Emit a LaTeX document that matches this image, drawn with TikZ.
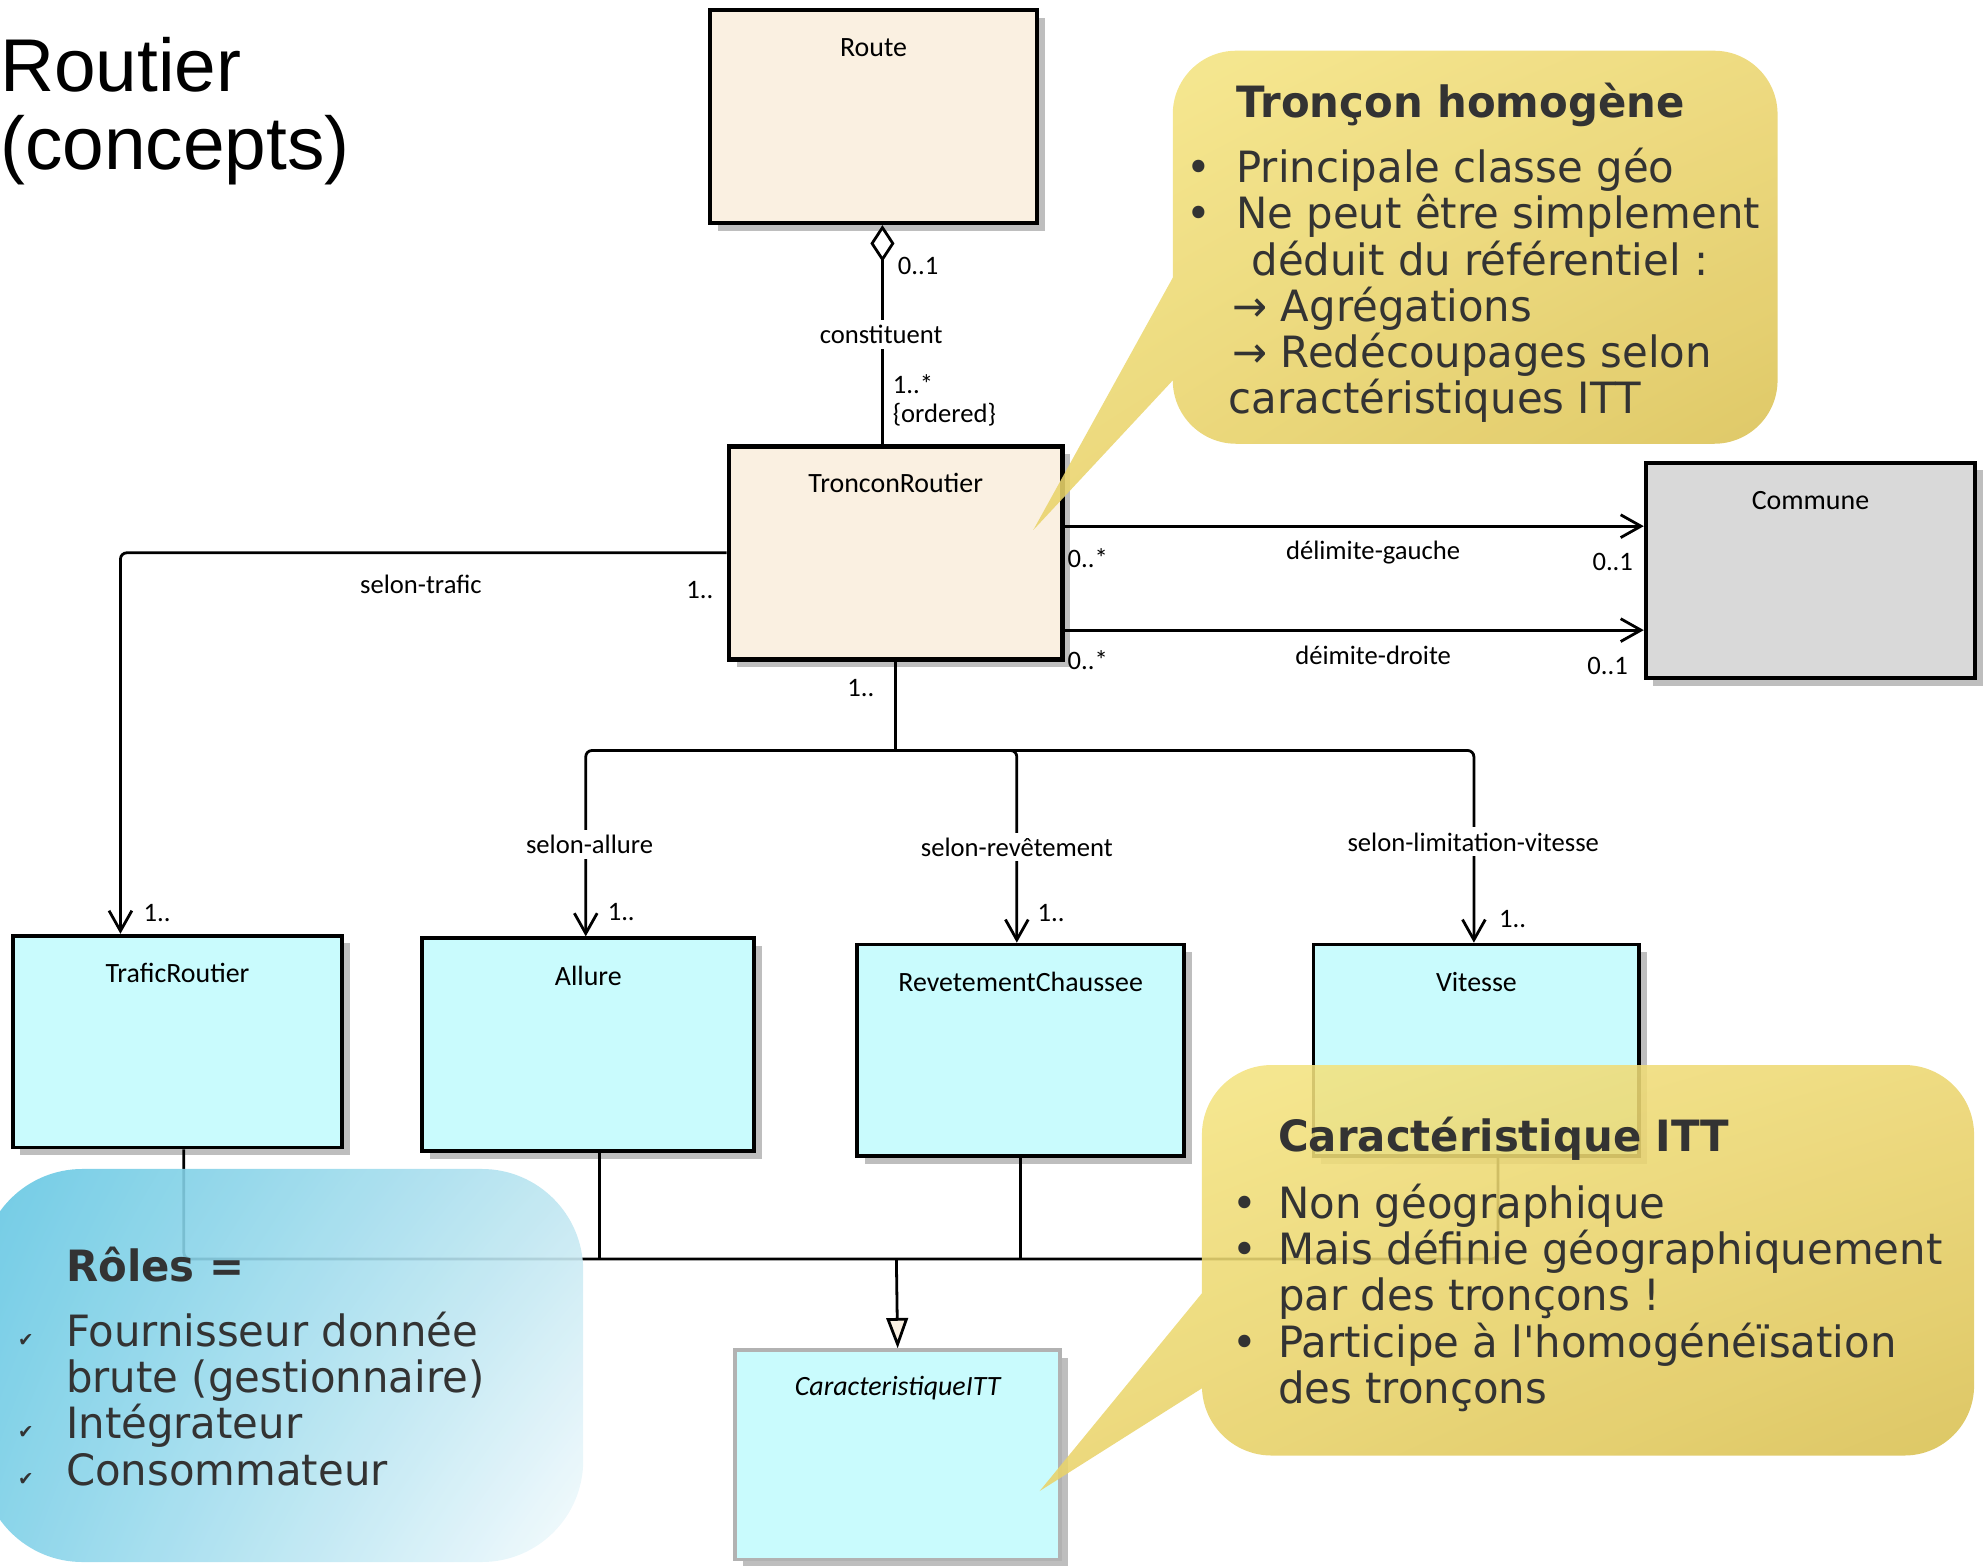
\documentclass[tikz,border=0pt]{standalone}
\usepackage{fontspec}
\setmainfont{Liberation Sans}
\newfontfamily\sketchfont{Carlito}
\newfontfamily\notefont[FakeStretch=0.97]{DejaVu Sans}
\usetikzlibrary{positioning,arrows.meta,shadows,shadings}
\definecolor{beigefill}{HTML}{FAF0E1}
\definecolor{cyanfill}{HTML}{C9FBFD}
\definecolor{communefill}{HTML}{D9D9D9}
\definecolor{shadowgray}{HTML}{BEBEBE}
\definecolor{notegray}{HTML}{333333}
\definecolor{yellowA}{HTML}{F6E785}
\definecolor{yellowB}{HTML}{ECD670}
\definecolor{yellowC}{HTML}{E9D36A}
\definecolor{yellowD}{HTML}{D7BD4D}
\definecolor{blueA}{HTML}{62C6E2}
\definecolor{blueB}{HTML}{BFE6F1}
\definecolor{blueC}{HTML}{7CCFE7}
\definecolor{blueD}{HTML}{F5FBFD}
\tikzset{
  classbox/.style   = {shape=rectangle, draw, line width=3pt,
                       drop shadow={shadow xshift=6pt, shadow yshift=-6pt,
                                    fill=shadowgray, opacity=1}},
  beigebox/.style   = {classbox, fill=beigefill},
  cyanbox/.style    = {classbox, fill=cyanfill},
  graybox/.style    = {classbox, fill=communefill},
  classlbl/.style   = {font=\sketchfont\fontsize{22}{24}\selectfont, inner sep=0pt},
  mult/.style       = {font=\sketchfont\fontsize{21}{23}\selectfont, inner sep=1pt},
  rolename/.style   = {mult, fill=white, inner sep=4pt},
  connector/.style  = {draw, line width=2.2pt, rounded corners=5pt},
  assocarrow/.style = {connector, -{Straight Barb[length=16pt, width=18pt]}},
  aggline/.style    = {connector, {Diamond[length=29pt, width=19pt, fill=white]}-},
  genline/.style    = {connector, -{Triangle[length=24pt, width=17pt, fill=beigefill]}},
  yellownote/.style = {upper left=yellowA, upper right=yellowB,
                       lower left=yellowC, lower right=yellowD, opacity=.88},
  bluenote/.style   = {upper left=blueA, upper right=blueB,
                       lower left=blueC, lower right=blueD, opacity=.9},
  notetext/.style   = {font=\notefont\fontsize{34}{36.5}\selectfont, text=notegray,
                       align=left, inner sep=0pt, anchor=north west},
}
\begin{document}
\begin{tikzpicture}[x=1pt, y=-1pt]
  \useasboundingbox (0,0) rectangle (1568,1235);

  \node[anchor=north west, inner sep=0pt, align=left,
        font=\fontsize{59}{62}\selectfont] (title) at (0,29) {Routier\\(concepts)};

  \node[beigebox, minimum width=258pt, minimum height=168pt] (route) at (689,92) {};
  \node[beigebox, minimum width=263pt, minimum height=168pt, line width=3.8pt] (troncon) at (706.5,436) {};
  \node[graybox, minimum width=260pt, minimum height=170pt] (commune) at (1428,450) {};
  \node[cyanbox, minimum width=260pt, minimum height=167pt] (trafic) at (140,821.5) {};
  \node[cyanbox, minimum width=262pt, minimum height=168pt] (allure) at (464,824) {};
  \node[cyanbox, minimum width=258pt, minimum height=167pt] (revet) at (805,828.5) {};
  \node[cyanbox, minimum width=257pt, minimum height=167pt] (vitesse) at (1164.5,828.5) {};
  \node[cyanbox, minimum width=256pt, minimum height=165pt, draw=black!30] (caract) at (708,1147.5) {};

  \node[classlbl] (routelbl) at ([yshift=-31pt]route.north) {Route};
  \node[classlbl] (tronconlbl) at ([yshift=-31pt]troncon.north) {TronconRoutier};
  \node[classlbl] (communelbl) at ([yshift=-31pt]commune.north) {Commune};
  \node[classlbl] (traficlbl) at ([yshift=-31pt]trafic.north) {TraficRoutier};
  \node[classlbl] (allurelbl) at ([yshift=-31pt]allure.north) {Allure};
  \node[classlbl] (revetlbl) at ([yshift=-31pt]revet.north) {RevetementChaussee};
  \node[classlbl] (vitesselbl) at ([yshift=-31pt]vitesse.north) {Vitesse};
  \node[classlbl, font=\sketchfont\itshape\fontsize{22}{24}\selectfont] (caractlbl)
       at ([yshift=-31pt]caract.north) {CaracteristiqueITT};

  \draw[aggline] ([xshift=7pt]route.south) -- ([xshift=7pt]route.south |- troncon.north);
  \draw[assocarrow] ([yshift=21pt]troncon.east) -- ([yshift=21pt]troncon.east -| commune.west);
  \draw[assocarrow] ([yshift=-61pt]troncon.east) -- ([yshift=-61pt]troncon.east -| commune.west);
  \draw[assocarrow] (troncon.west) -| ([xshift=-45pt]trafic.north);

  \coordinate (split) at ([yshift=-70pt]troncon.south);
  \draw[connector] (troncon.south) -- (split);
  \draw[assocarrow] (split) -| ([xshift=-2pt]allure.north);
  \draw[assocarrow] (split) -| ([xshift=-3pt]revet.north);
  \draw[assocarrow] (split) -| ([xshift=-2pt]vitesse.north);

  \coordinate (genjoin) at (707,993);
  \draw[connector] ([xshift=5pt]trafic.south) |- ([xshift=17pt]vitesse.south |- genjoin)
                   -- ([xshift=17pt]vitesse.south);
  \draw[connector] ([xshift=9pt]allure.south) -- ([xshift=9pt]allure.south |- genjoin);
  \draw[connector] (revet.south) -- (revet.south |- genjoin);
  \draw[genline] (genjoin) -- (caract.north);

  \node[mult, anchor=west] (constup) at (707,210) {0..1};
  \node[rolename] (constrole) at (695,264) {constituent};
  \node[mult, anchor=west, align=left] (constdown) at (703,316) {1..*\\\{ordered\}};
  \node[mult] (gauchefrom) at (858,440) {0..*};
  \node[mult] (gaucherole) at (1083,436) {délimite-gauche};
  \node[mult] (gaucheto) at (1272,443) {0..1};
  \node[mult] (droitefrom) at (858,521) {0..*};
  \node[mult] (droiterole) at (1083,517) {déimite-droite};
  \node[mult] (droiteto) at (1268,525) {0..1};
  \node[mult] (traficrole) at (332,461) {selon-trafic};
  \node[mult] (traficfrom) at (552,465) {1..};
  \node[mult] (traficto) at (124,720) {1..};
  \node[mult] (treefrom) at (679,543) {1..};
  \node[rolename] (allurerole) at (465,666) {selon-allure};
  \node[rolename] (revetrole) at (802,668) {selon-revêtement};
  \node[rolename] (vitesserole) at (1162,664) {selon-limitation-vitesse};
  \node[mult] (allureto) at (490,719) {1..};
  \node[mult] (revetto) at (829,720) {1..};
  \node[mult] (vitesseto) at (1193,725) {1..};

  \shade[yellownote] [rounded corners=50pt] (925,40) -- (1402,40) -- (1402,350) -- (925,350) -- cycle
        [sharp corners] (925,219) -- (925,300) -- (815,418) -- cycle;
  \node[notetext] (tronconnote) at (936,65) {\hspace*{39pt}\textbf{Tronçon homogène}\\[15pt]
      \makebox[39pt][l]{•}Principale classe géo\\
      \makebox[39pt][l]{•}Ne peut être simplement\\
      \hspace*{51pt}déduit du référentiel :\\
      \hspace*{36pt}→ Agrégations\\
      \hspace*{36pt}→ Redécoupages selon\\
      \hspace*{33pt}caractéristiques ITT};

  \shade[yellownote] [rounded corners=55pt] (948,840) -- (1557,840) -- (1557,1148) -- (948,1148) -- cycle
        [sharp corners] (948,1020) -- (948,1095) -- (820,1176) -- cycle;
  \node[notetext] (ittnote) at (972,881) {\hspace*{36pt}\textbf{Caractéristique ITT}\\[16pt]
      \makebox[36pt][l]{•}Non géographique\\
      \makebox[36pt][l]{•}Mais définie géographiquement\\
      \hspace*{36pt}par des tronçons !\\
      \makebox[36pt][l]{•}Participe à l'homogénéïsation\\
      \hspace*{36pt}des tronçons};

  \shade[bluenote, rounded corners=80pt] (-15,922) -- (460,922) -- (460,1232) -- (-15,1232) -- cycle;
  \node[notetext] (rolesnote) at (14,983) {\hspace*{38pt}\textbf{Rôles =}\\[15pt]
      \makebox[38pt][l]{\fontsize{15}{15}\selectfont ✔}Fournisseur donnée\\
      \hspace*{38pt}brute (gestionnaire)\\
      \makebox[38pt][l]{\fontsize{15}{15}\selectfont ✔}Intégrateur\\
      \makebox[38pt][l]{\fontsize{15}{15}\selectfont ✔}Consommateur};
\end{tikzpicture}
\end{document}
